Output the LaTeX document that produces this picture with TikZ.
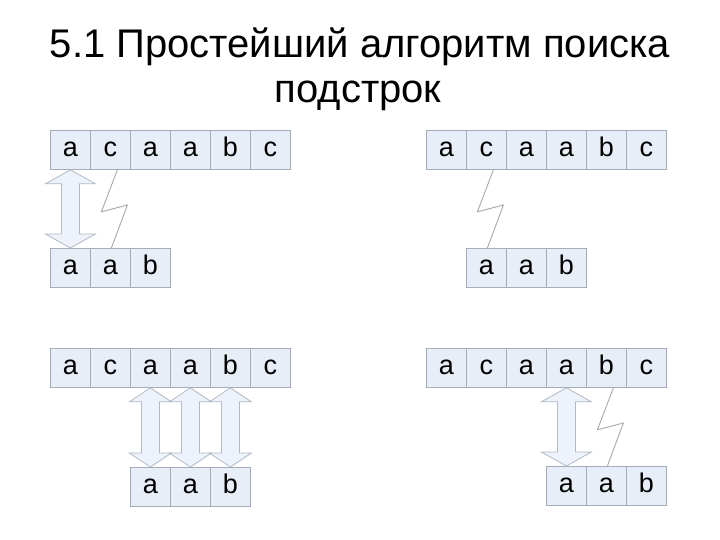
\documentclass[tikz,border=0pt]{standalone}
\usepackage{fontspec}
\setmainfont{Liberation Sans}
\usetikzlibrary{calc}
\definecolor{cellfill}{HTML}{E8EEF7}
\definecolor{celldraw}{HTML}{A4ACBA}
\definecolor{arrfill}{HTML}{EEF2FA}
\definecolor{arrdraw}{HTML}{B2B8C6}
\definecolor{boltc}{HTML}{A8A8A8}
\tikzset{
  cell/.style={draw=celldraw, fill=cellfill, line width=0.8pt, minimum width=40pt, minimum height=39pt, inner sep=0pt, anchor=north west, text height=13pt, text depth=0pt, font=\fontsize{27}{29}\selectfont},
  titletext/.style={anchor=base, inner sep=0pt, font=\fontsize{40}{44}\selectfont},
  arr/.style={draw=arrdraw, fill=arrfill, line width=0.8pt, line join=miter},
  bolt/.style={draw=boltc, line width=0.9pt}
}
% #1 top node, #2 bottom node, #3 half head width
\newcommand\mydblarrow[3]{%
  \draw[arr] (#1.south) -- ($(#1.south)+(#3,14)$) -- ($(#1.south)+(9,14)$)
    -- ($(#2.north)+(9,-14)$) -- ($(#2.north)+(#3,-14)$) -- (#2.north)
    -- ($(#2.north)+(-#3,-14)$) -- ($(#2.north)+(-9,-14)$)
    -- ($(#1.south)+(-9,14)$) -- ($(#1.south)+(-#3,14)$) -- cycle;}
\newcommand\mybolt[2]{%
  \draw[bolt] ($(#1.south)+(7,0)$) -- ($(#1.south)+(-9,42)$)
    -- ($(#2.north)+(17,-43)$) -- ($(#2.north)+(1,0)$);}
\begin{document}
\begin{tikzpicture}[x=1pt,y=-1pt]
\useasboundingbox (0,0) rectangle (720,540);
\node[titletext] (t1) at (360,58) {5.1 Простейший алгоритм поиска};
\node[titletext] (t2) at (358,103) {подстрок};
% rows
\foreach \r/\x/\y in {A/50/130, B/426/130, C/50/348, D/426/348}{
  \foreach \l [count=\i] in {a,c,a,a,b,c}{
    \node[cell] (\r\i) at ({\x+40*(\i-1)},\y) {\l};
  }
}
\foreach \r/\x/\y in {P/50/248, Q/466/248, R/130/467, S/546/466}{
  \foreach \l [count=\i] in {a,a,b}{
    \node[cell] (\r\i) at ({\x+40*(\i-1)},\y) {\l};
  }
}
% panel 1
\mydblarrow{A1}{P1}{25}
\mybolt{A2}{P2}
% panel 2
\mybolt{B2}{Q1}
% panel 3
\mydblarrow{C5}{R3}{21}
\mydblarrow{C4}{R2}{21}
\mydblarrow{C3}{R1}{21}
% panel 4
\mydblarrow{D4}{S1}{25}
\mybolt{D5}{S2}
\end{tikzpicture}
\end{document}
